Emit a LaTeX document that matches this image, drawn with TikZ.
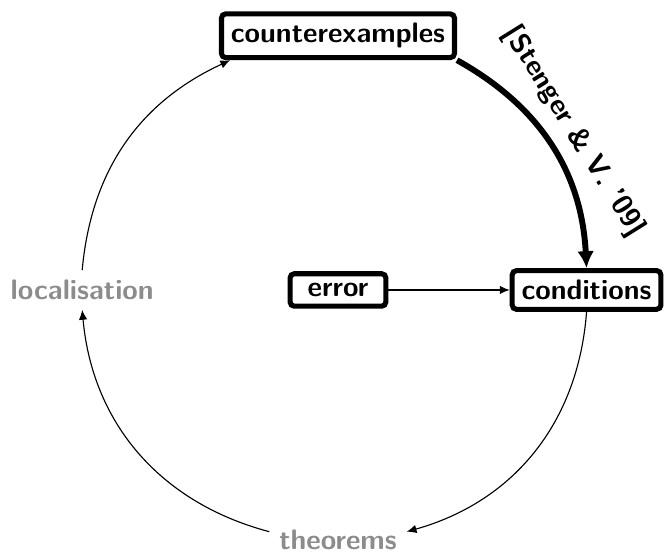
\documentclass[tikz,border=0pt]{standalone}
\usepackage{tikz}
\usetikzlibrary{arrows.meta}

\tikzset{
  box/.style={draw, line width=1.8pt, rounded corners=1.5pt, font=\sffamily\bfseries},
  faded/.style={text=black!45, font=\sffamily\bfseries},
  cite/.style={font=\sffamily\bfseries},
  thin tip/.style={-{Latex[length=3.5pt,width=3pt]}},
  thick tip/.style={line width=2.1pt,-{Latex[length=6pt,width=6pt]}},
}

\begin{document}
\begin{tikzpicture}
 \useasboundingbox (-4.215,-3.305) rectangle (4.103,3.616);
 % noder
 \node[box] (ce) at (0,3.17) {counterexamples};
 \node[box] (cond) at (3.1,0) {conditions};
 \node[box,minimum width=34pt] (err) at (0,0) {error};
 \node[faded] (loc) at (-3.19,0) {localisation};
 \node[faded] (thm) at (0,-3.12) {theorems};
 % pile rundt
 \draw[thick tip] (ce.south east) to[bend left=29] node[midway,sloped,above,cite] {[Stenger \& V. '09]} (cond.north);
 \draw[thin tip] (cond.south) to[bend left=35] ([yshift=3pt]thm.east);
 \draw[thin tip] ([yshift=3pt]thm.west) to[bend left=35] (loc.south);
 \draw[thin tip] (loc.north) to[bend left=30] ([xshift=4pt]ce.south west);
 \draw[thin tip] (err) -- (cond);
\end{tikzpicture}
\end{document}
